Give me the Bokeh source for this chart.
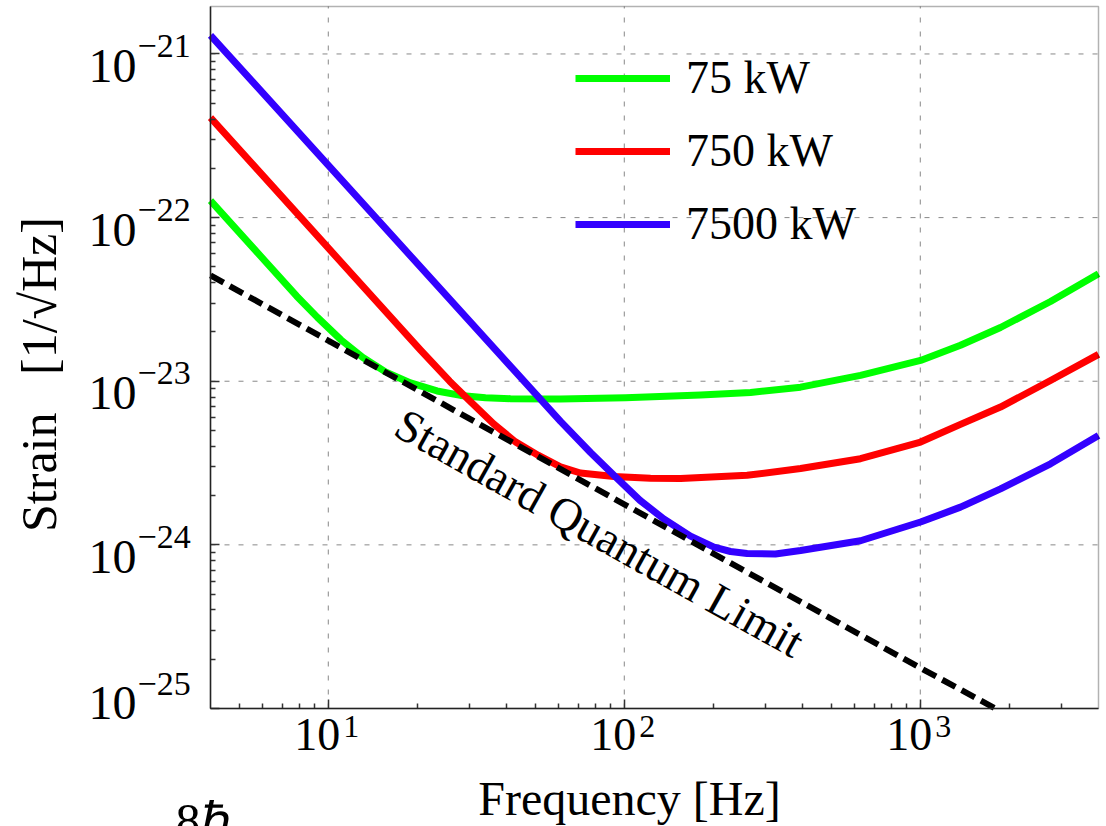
import math
from bokeh.plotting import figure
from bokeh.models import (Range1d, FixedTicker, Label, CustomJSTickFormatter, LogAxis,
                          BoxAnnotation)
from bokeh.embed import file_html
from bokeh.resources import INLINE

# ---------------- data ----------------
freq_75 = [4.0, 7.81, 9.19, 11.04, 13.05, 15.61, 18.96, 23.3, 27.97, 33.97, 41.3, 60.9, 100.9,
           181, 267, 394, 628, 1002, 1367, 1866, 2754, 4000]
strain_75 = [1.27e-22, 3.32e-23, 2.455e-23, 1.79e-23, 1.40e-23, 1.14e-23, 9.76e-24, 8.72e-24, 8.19e-24,
             7.93e-24, 7.82e-24, 7.80e-24, 7.93e-24, 8.25e-24, 8.54e-24, 9.20e-24, 1.085e-23, 1.34e-23,
             1.66e-23, 2.13e-23, 3.07e-23, 4.54e-23]

freq_750 = [4.0, 10.17, 20.5, 25.7, 30.2, 36.3, 42.9, 51.3, 60.9, 71.1, 92.2, 122.6, 155, 260, 394,
            628, 1002, 1367, 1866, 2754, 4000]
strain_750 = [4.08e-22, 6.30e-23, 1.55e-23, 1.00e-23, 7.52e-24, 5.46e-24, 4.26e-24, 3.52e-24, 3.00e-24,
              2.75e-24, 2.62e-24, 2.55e-24, 2.54e-24, 2.66e-24, 2.93e-24, 3.36e-24, 4.25e-24, 5.45e-24,
              6.95e-24, 1.01e-23, 1.46e-23]

freq_7500 = [4.0, 60.9, 76.9, 92.2, 113, 136, 167.4, 201, 228.5, 260, 324, 394, 628, 1002, 1367,
             1866, 2754, 4000]
strain_7500 = [1.30e-21, 5.68e-24, 3.67e-24, 2.66e-24, 1.87e-24, 1.44e-24, 1.13e-24, 9.68e-25, 9.11e-25,
               8.86e-25, 8.80e-25, 9.24e-25, 1.06e-24, 1.38e-24, 1.70e-24, 2.20e-24, 3.13e-24, 4.66e-24]

sql_freq = [4, 10, 100, 1000, 1795]
sql_strain = [4.43e-23, 1.77e-23, 1.77e-24, 1.77e-25, 1.0e-25]

series_labels = ["75 kW", "750 kW", "7500 kW"]
sql_label = "Standard Quantum Limit"
x_title = "Frequency [Hz]"
y_title = "Strain\u2002 [1/\u221aHz]"
fragment_text = "8\u210f"

x_ticks = [10, 100, 1000]
x_minor = [5, 6, 7, 8, 9, 20, 30, 40, 50, 60, 70, 80, 90,
           200, 300, 400, 500, 600, 700, 800, 900, 2000, 3000]
y_ticks = [1e-25, 1e-24, 1e-23, 1e-22, 1e-21]
y_minor = [k * 10.0 ** e for e in (-25, -24, -23, -22) for k in range(2, 10)]

# plotting box limits (data)
X_START, X_END = 4.0, 4000.0
Y_START, Y_END = 1e-25, 1.95e-21

# ---------------- layout (pixels) ----------------
W, H = 1106, 826
BOX_L, BOX_R, BOX_T, BOX_B = 210, 1098, 6, 708
px_dec_x = (BOX_R - BOX_L) / (math.log10(X_END) - math.log10(X_START))
px_dec_y = (BOX_B - BOX_T) / (math.log10(Y_END) - math.log10(Y_START))
xa = 10 ** (math.log10(X_START) - BOX_L / px_dec_x)
xb = 10 ** (math.log10(X_END) + (W - BOX_R) / px_dec_x)
ya = 10 ** (math.log10(Y_START) - (H - BOX_B) / px_dec_y)
yb = 10 ** (math.log10(Y_END) + BOX_T / px_dec_y)

FONT = "Liberation Serif"
COLORS = ["#00FF00", "#FF0000", "#3300FF"]

p = figure(width=W, height=H, x_axis_type="log", y_axis_type="log",
           x_axis_location=None, y_axis_location=None,
           x_range=Range1d(xa, xb), y_range=Range1d(ya, yb),
           output_backend="svg", toolbar_location=None,
           min_border=0, min_border_left=0, min_border_right=0,
           min_border_top=0, min_border_bottom=0)
p.background_fill_color = "white"
p.border_fill_color = "white"
p.outline_line_alpha = 0
p.grid.visible = False

xt = FixedTicker(ticks=x_ticks, minor_ticks=x_minor)
yt = FixedTicker(ticks=y_ticks, minor_ticks=y_minor)

# grid lines at the major ticks, limited to the plotting box
p.segment(x0=x_ticks, y0=[Y_START] * len(x_ticks), x1=x_ticks, y1=[Y_END] * len(x_ticks),
          line_color="#888888", line_width=1, line_dash="5 9")
p.segment(x0=[X_START] * len(y_ticks), y0=y_ticks, x1=[X_END] * len(y_ticks), y1=y_ticks,
          line_color="#888888", line_width=1, line_dash="5 9")

for fx, sy, col, lab in zip([freq_75, freq_750, freq_7500],
                            [strain_75, strain_750, strain_7500], COLORS, series_labels):
    p.line(fx, sy, line_color=col, line_width=7, legend_label=lab, line_join="round")

p.line(sql_freq, sql_strain, line_color="black", line_width=6, line_dash="15 7")

# frame box
p.add_layout(BoxAnnotation(left=X_START, right=X_END, bottom=Y_START, top=Y_END,
                           fill_alpha=0, line_color="black", line_width=1.5))


def make_axis(ticker, loc, bounds):
    ax = LogAxis(ticker=ticker, fixed_location=loc, bounds=bounds,
                 formatter=CustomJSTickFormatter(code="return ''"))
    ax.major_tick_in = 9
    ax.major_tick_out = 0
    ax.minor_tick_in = 5
    ax.minor_tick_out = 0
    ax.major_tick_line_color = "#333333"
    ax.minor_tick_line_color = "#333333"
    ax.major_tick_line_width = 1.5
    ax.minor_tick_line_width = 1.5
    ax.axis_line_color = "#333333"
    ax.axis_line_width = 1.5
    ax.major_label_text_font_size = "0px"
    ax.major_label_standoff = 0
    return ax


p.add_layout(make_axis(xt, Y_START, (X_START, X_END)), "below")
p.add_layout(make_axis(yt, X_START, (Y_START, Y_END)), "left")

lg = p.legend[0]
lg.location = (575, H - 250)
lg.padding = 0
lg.margin = 0
lg.spacing = 20
lg.glyph_width = 95
lg.glyph_height = 50
lg.label_height = 50
lg.label_standoff = 16
lg.label_text_font = FONT
lg.label_text_font_size = "46px"
lg.label_text_color = "black"
lg.border_line_alpha = 0
lg.background_fill_alpha = 0

# y tick labels: 10^e  (anchored at the top of the text)
for t in y_ticks:
    e = int(round(math.log10(t)))
    base_off = 22 if t <= Y_START else 4
    exp_off = 36 if t <= Y_START else 19
    p.add_layout(Label(x=X_START, y=t, text="10", x_offset=-122, y_offset=base_off,
                       text_font=FONT, text_font_size="48px", text_align="left",
                       text_baseline="top", text_color="black"))
    p.add_layout(Label(x=X_START, y=t, text="\u2212%d" % abs(e), x_offset=-73, y_offset=exp_off,
                       text_font=FONT, text_font_size="34px", text_align="left",
                       text_baseline="top", text_color="black"))

# x tick labels
for t in x_ticks:
    e = int(round(math.log10(t)))
    p.add_layout(Label(x=t, y=Y_START, text="10", x_offset=12, y_offset=-10,
                       text_font=FONT, text_font_size="46px", text_align="right",
                       text_baseline="top", text_color="black"))
    p.add_layout(Label(x=t, y=Y_START, text=str(e), x_offset=15, y_offset=-7,
                       text_font=FONT, text_font_size="32px", text_align="left",
                       text_baseline="top", text_color="black"))

# axis titles
p.add_layout(Label(x=math.sqrt(X_START * X_END), y=Y_START, text=x_title, x_offset=-25, y_offset=-63,
                   text_font=FONT, text_font_size="48px", text_align="center",
                   text_baseline="top", text_color="black"))
p.add_layout(Label(x=X_START, y=math.sqrt(Y_START * Y_END), text=y_title, x_offset=-200, y_offset=-17,
                   angle=math.pi / 2, text_font=FONT, text_font_size="50px", text_align="center",
                   text_baseline="top", text_color="black"))

# SQL annotation
p.add_layout(Label(x=82.6, y=1.18e-24, text=sql_label, angle=-0.51,
                   text_font=FONT, text_font_size="46px", text_align="center",
                   text_baseline="middle", text_color="black"))

# cropped fragment of the following equation (cut by the page edge as in the reference)
p.add_layout(Label(x=X_START, y=Y_START, text=fragment_text, x_offset=-35, y_offset=-84,
                   text_font=FONT, text_font_size="50px", text_align="left",
                   text_baseline="top", text_color="black"))

open("out.html", "w").write(file_html(p, INLINE))
